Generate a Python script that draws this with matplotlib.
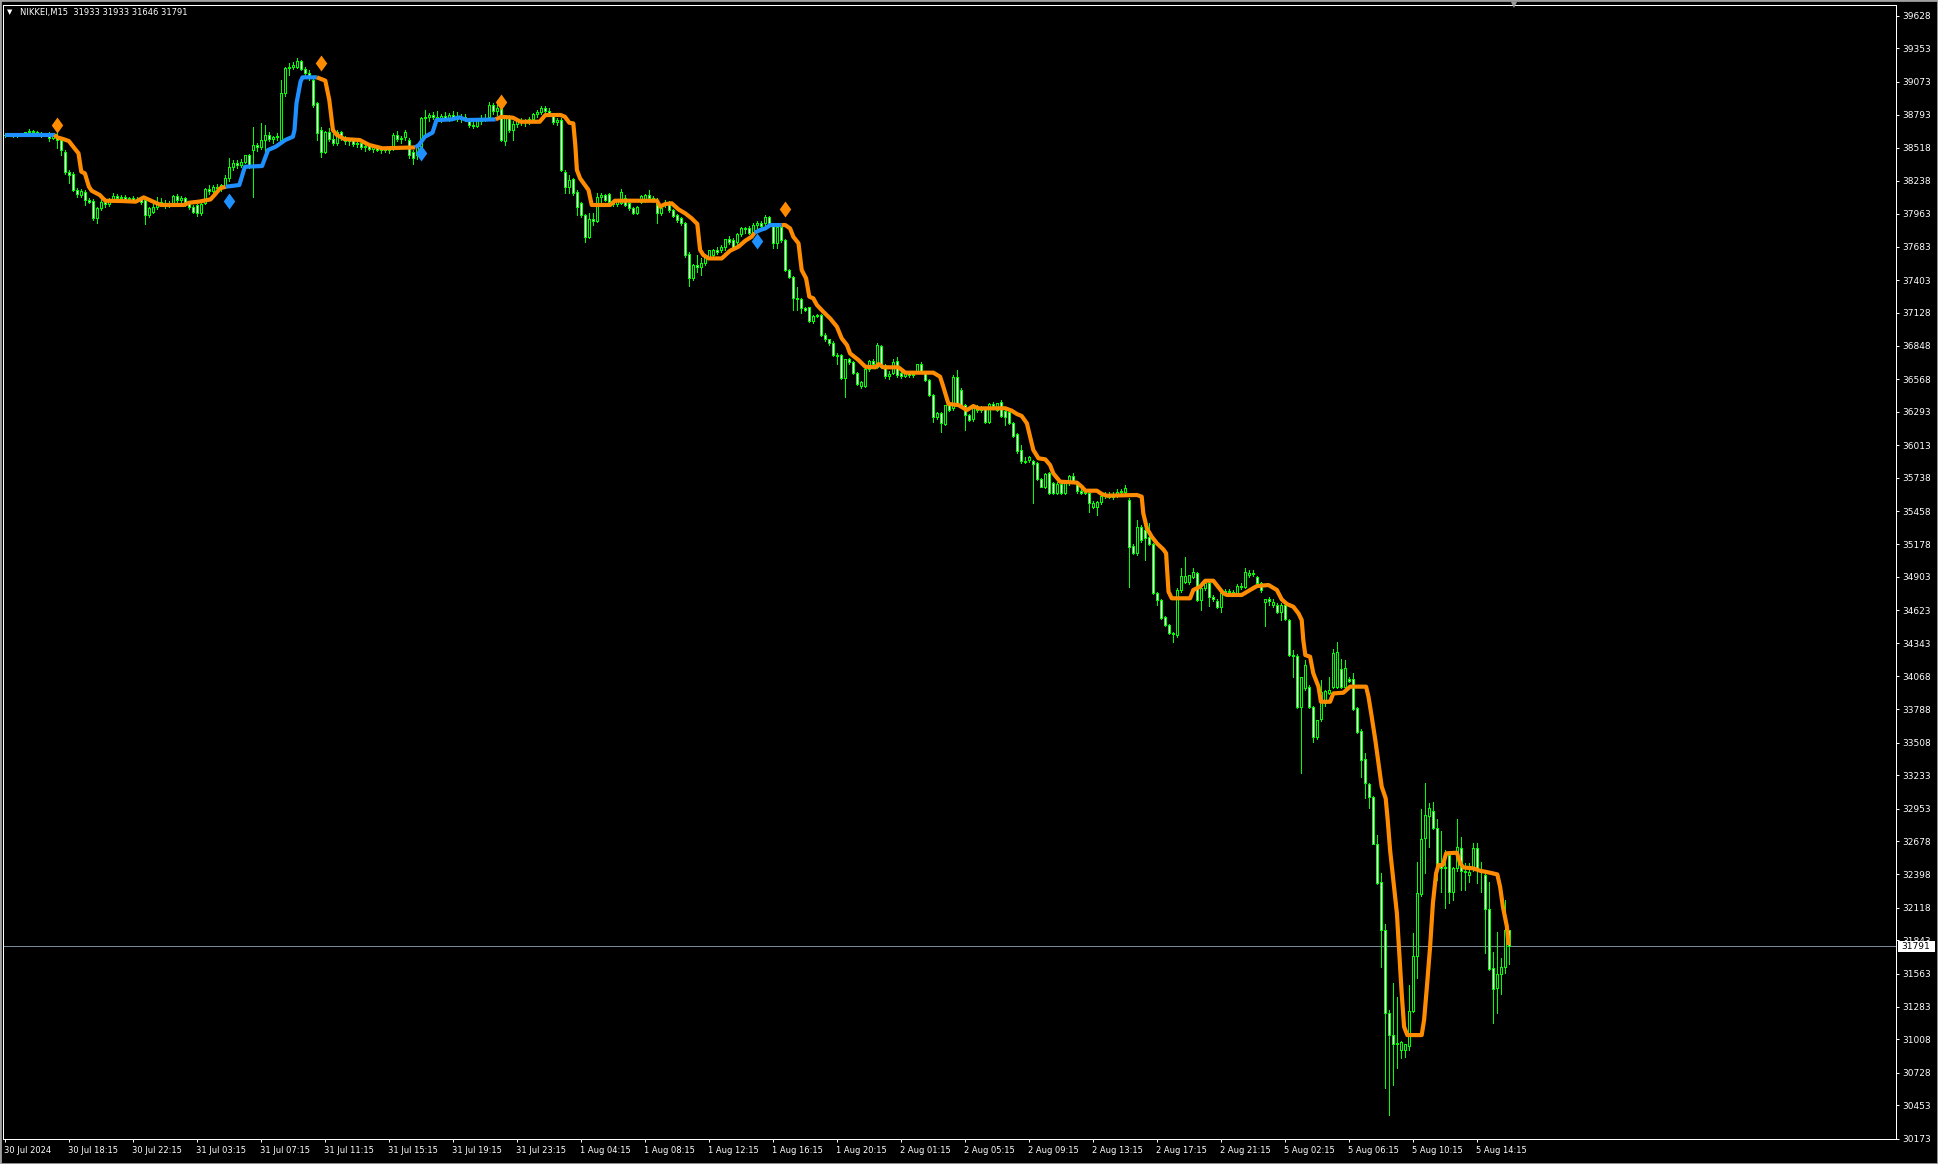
import numpy as np
import matplotlib
matplotlib.use("Agg")
import matplotlib.pyplot as plt
import matplotlib.transforms as mtransforms
from matplotlib.path import Path
from matplotlib.patches import Rectangle

# NIKKEI M15 candles, 30 Jul 14:15 .. 5 Aug 16:15
symbol = "NIKKEI,M15"

opens = [
    38624, 38628, 38620, 38612, 38630, 38624, 38646, 38660, 38650, 38636,
    38622, 38640, 38600, 38620, 38582, 38485, 38315, 38300, 38161, 38119,
    38147, 38077, 38071, 37922, 38012, 38063, 38040, 38080, 38110, 38090,
    38100, 38088, 38095, 38080, 38085, 38077, 37950, 37980, 38020, 38060,
    38045, 38030, 38049, 38110, 38075, 38095, 38050, 38020, 38035, 37965,
    38050, 38170, 38150, 38190, 38175, 38190, 38260, 38357, 38385, 38370,
    38400, 38455, 38498, 38540, 38525, 38582, 38624, 38590, 38605, 38582,
    38975, 39185, 39200, 39200, 39250, 39177, 39150, 39087, 38890, 38666,
    38484, 38650, 38590, 38560, 38650, 38600, 38570, 38590, 38545, 38560,
    38525, 38530, 38510, 38520, 38500, 38515, 38495, 38526, 38624, 38590,
    38610, 38582, 38484, 38456, 38526, 38764, 38780, 38790, 38775, 38760,
    38785, 38770, 38795, 38780, 38760, 38775, 38750, 38710, 38700, 38740,
    38770, 38772, 38877, 38830, 38850, 38570, 38780, 38670, 38720, 38740,
    38730, 38750, 38760, 38800, 38820, 38850, 38830, 38790, 38730, 38750,
    38315, 38189, 38250, 38147, 38049, 37950, 37768, 37914, 37900, 38099,
    38117, 38127, 38063, 38040, 38049, 38091, 38049, 38007, 37970, 38063,
    38077, 38119, 38091, 38077, 37964, 38035, 38054, 37993, 37950, 37922,
    37880, 37622, 37417, 37529, 37510, 37549, 37600, 37614, 37656, 37656,
    37678, 37745, 37740, 37726, 37790, 37838, 37838, 37810, 37866, 37885,
    37886, 37930, 37860, 37717, 37846, 37740, 37487, 37426, 37249, 37240,
    37165, 37173, 37061, 37100, 37110, 36940, 36903, 36870, 36772, 36771,
    36575, 36735, 36710, 36617, 36510, 36510, 36651, 36724, 36673, 36847,
    36687, 36595, 36623, 36724, 36623, 36595, 36620, 36600, 36640, 36696,
    36623, 36561, 36435, 36252, 36280, 36190, 36350, 36322, 36589, 36476,
    36350, 36266, 36230, 36342, 36308, 36323, 36210, 36359, 36310, 36379,
    36303, 36294, 36196, 36104, 35972, 35880, 35888, 35882, 35860, 35725,
    35663, 35775, 35691, 35612, 35685, 35612, 35690, 35753, 35685, 35629,
    35612, 35612, 35495, 35495, 35537, 35585, 35605, 35580, 35593, 35620,
    35621, 35551, 35163, 35107, 35320, 35298, 35242, 35180, 34765, 34709,
    34562, 34498, 34428, 34414, 34793, 34863, 34863, 34905, 34933, 34709,
    34807, 34849, 34737, 34703, 34652, 34765, 34787, 34775, 34765, 34826,
    34821, 34919, 34939, 34905, 34855, 34688, 34716, 34667, 34667, 34610,
    34667, 34540, 34245, 34240, 33810, 33965, 33973, 33805, 33552, 33704,
    33838, 33928, 33979, 33979, 34124, 33979, 34040, 34040, 33796, 33608,
    33367, 33159, 33052, 32654, 32336, 31929, 31228, 31045, 30970, 30919,
    30919, 30953, 31250, 31711, 32233, 32701, 32890, 32934, 32786, 32485,
    32449, 32561, 32252, 32449, 32617, 32430, 32393, 32449, 32617, 32435,
    32393, 32104, 31607, 31438, 31559, 31621, 31933,
]

highs = [
    38640, 38640, 38632, 38636, 38645, 38652, 38672, 38668, 38662, 38650,
    38645, 38648, 38640, 38640, 38590, 38495, 38330, 38310, 38175, 38170,
    38160, 38095, 38083, 38015, 38090, 38090, 38095, 38135, 38130, 38115,
    38120, 38105, 38110, 38100, 38095, 38090, 38015, 38040, 38100, 38090,
    38075, 38070, 38120, 38130, 38110, 38105, 38070, 38035, 38045, 38060,
    38180, 38200, 38200, 38215, 38210, 38287, 38428, 38412, 38410, 38420,
    38460, 38465, 38694, 38560, 38722, 38708, 38650, 38620, 38640, 39087,
    39200, 39228, 39240, 39270, 39260, 39200, 39175, 39110, 38900, 38690,
    38660, 38680, 38630, 38665, 38660, 38615, 38600, 38600, 38580, 38575,
    38545, 38560, 38540, 38535, 38530, 38525, 38520, 38640, 38660, 38620,
    38670, 38600, 38500, 38540, 38780, 38835, 38810, 38820, 38830, 38800,
    38820, 38810, 38830, 38815, 38800, 38805, 38770, 38740, 38760, 38790,
    38800, 38905, 38890, 38918, 38870, 38790, 38790, 38740, 38760, 38770,
    38760, 38780, 38810, 38835, 38865, 38870, 38855, 38800, 38770, 38770,
    38330, 38287, 38260, 38160, 38060, 37960, 37965, 37965, 38133, 38140,
    38130, 38140, 38080, 38075, 38166, 38120, 38060, 38020, 38030, 38120,
    38130, 38161, 38110, 38090, 38020, 38080, 38065, 38000, 37960, 37930,
    37895, 37640, 37540, 37614, 37585, 37610, 37660, 37665, 37680, 37700,
    37750, 37770, 37760, 37800, 37850, 37850, 37860, 37880, 37900, 37900,
    37950, 37945, 37870, 37860, 37860, 37750, 37500, 37435, 37347, 37255,
    37180, 37180, 37110, 37120, 37115, 36955, 36910, 36888, 36790, 36780,
    36740, 36745, 36720, 36625, 36555, 36660, 36730, 36735, 36870, 36860,
    36700, 36640, 36735, 36758, 36640, 36640, 36640, 36630, 36700, 36710,
    36635, 36570, 36440, 36290, 36290, 36350, 36365, 36600, 36645, 36490,
    36360, 36275, 36330, 36350, 36340, 36335, 36365, 36375, 36370, 36390,
    36315, 36305, 36205, 36115, 36014, 35910, 35920, 35890, 35870, 35735,
    35780, 35790, 35700, 35700, 35700, 35700, 35760, 35775, 35700, 35640,
    35640, 35625, 35545, 35545, 35590, 35620, 35620, 35615, 35640, 35640,
    35680, 35565, 35180, 35382, 35340, 35310, 35360, 35190, 34775, 34720,
    34570, 34505, 34440, 34810, 34975, 35073, 34920, 34975, 34945, 34810,
    34860, 34860, 34750, 34715, 34765, 34800, 34800, 34790, 34840, 34850,
    34975, 34960, 34960, 34915, 34860, 34720, 34735, 34720, 34680, 34680,
    34680, 34550, 34287, 34255, 34063, 34203, 33990, 33815, 33700, 34035,
    33950, 34063, 34293, 34357, 34209, 34203, 34060, 34090, 33810, 33620,
    33417, 33170, 33060, 32730, 32407, 31980, 31256, 31481, 31368, 30997,
    30970, 31466, 31901, 32505, 32946, 33165, 32996, 33010, 32861, 32763,
    32603, 32580, 32460, 32861, 32715, 32491, 32491, 32665, 32665, 32505,
    32410, 32336, 31747, 31916, 31691, 32182, 31933,
]

lows = [
    38610, 38612, 38604, 38605, 38618, 38618, 38640, 38645, 38628, 38610,
    38615, 38570, 38590, 38512, 38456, 38300, 38217, 38150, 38100, 38100,
    38035, 38050, 37908, 37880, 37990, 38020, 38030, 38065, 38075, 38070,
    38080, 38060, 38070, 38060, 38040, 37875, 37930, 37965, 38000, 38030,
    38010, 38015, 38030, 38060, 38050, 38030, 38000, 37965, 37940, 37950,
    38040, 38130, 38140, 38160, 38150, 38180, 38240, 38330, 38350, 38355,
    38390, 38350, 38105, 38490, 38510, 38480, 38570, 38560, 38580, 38570,
    38950, 39130, 39180, 39190, 39170, 39130, 39090, 38860, 38582, 38442,
    38470, 38570, 38540, 38540, 38580, 38550, 38540, 38530, 38520, 38510,
    38490, 38500, 38480, 38490, 38470, 38480, 38470, 38500, 38570, 38560,
    38580, 38430, 38380, 38420, 38500, 38610, 38740, 38760, 38740, 38730,
    38750, 38745, 38760, 38740, 38735, 38740, 38690, 38680, 38690, 38720,
    38740, 38760, 38800, 38790, 38570, 38540, 38650, 38582, 38690, 38710,
    38700, 38720, 38740, 38780, 38800, 38810, 38790, 38720, 38710, 38320,
    38133, 38133, 38120, 37950, 37930, 37726, 37760, 37866, 37890, 38060,
    38070, 38035, 38030, 38030, 38040, 38025, 37995, 37960, 37960, 38050,
    38060, 38080, 38060, 37880, 37950, 38020, 37980, 37930, 37890, 37870,
    37600, 37353, 37400, 37473, 37445, 37530, 37580, 37600, 37620, 37640,
    37660, 37710, 37660, 37710, 37770, 37800, 37790, 37790, 37840, 37850,
    37870, 37850, 37670, 37670, 37720, 37480, 37420, 37150, 37150, 37122,
    37140, 37050, 37040, 37090, 36930, 36890, 36860, 36760, 36700, 36570,
    36421, 36700, 36610, 36520, 36490, 36500, 36640, 36690, 36660, 36660,
    36580, 36570, 36610, 36590, 36580, 36585, 36590, 36585, 36630, 36630,
    36550, 36430, 36210, 36230, 36120, 36180, 36300, 36310, 36350, 36340,
    36140, 36220, 36220, 36290, 36290, 36200, 36200, 36330, 36300, 36250,
    36180, 36190, 36080, 35950, 35860, 35860, 35870, 35522, 35720, 35660,
    35650, 35605, 35600, 35600, 35600, 35600, 35680, 35700, 35610, 35600,
    35600, 35452, 35480, 35425, 35520, 35570, 35570, 35560, 35580, 35600,
    35610, 34815, 35095, 35090, 35200, 35045, 35170, 34760, 34666, 34550,
    34490, 34420, 34358, 34400, 34780, 34850, 34840, 34890, 34700, 34625,
    34790, 34660, 34700, 34640, 34610, 34750, 34760, 34740, 34750, 34800,
    34810, 34900, 34910, 34840, 34780, 34490, 34670, 34650, 34600, 34540,
    34540, 34240, 34063, 33800, 33254, 33950, 33800, 33515, 33540, 33690,
    33820, 33920, 33970, 33970, 33970, 33970, 34020, 33780, 33590, 33215,
    33038, 32954, 32650, 32320, 31621, 30596, 30372, 30624, 30765, 30849,
    30863, 30919, 31240, 31522, 32220, 32407, 32631, 32780, 32350, 32253,
    32112, 32160, 32182, 32430, 32266, 32266, 32337, 32430, 32322, 32253,
    31739, 31590, 31149, 31233, 31391, 31565, 31646,
]

closes = [
    38628, 38620, 38612, 38630, 38624, 38646, 38660, 38650, 38636, 38622,
    38640, 38600, 38628, 38582, 38498, 38315, 38287, 38161, 38127, 38155,
    38077, 38060, 37922, 38012, 38063, 38040, 38080, 38110, 38090, 38100,
    38088, 38095, 38080, 38085, 38060, 37950, 38006, 38020, 38060, 38045,
    38030, 38055, 38110, 38075, 38095, 38050, 38015, 37980, 37965, 38045,
    38170, 38150, 38190, 38175, 38200, 38260, 38357, 38385, 38370, 38400,
    38455, 38370, 38540, 38525, 38582, 38624, 38590, 38605, 38620, 38975,
    39185, 39200, 39215, 39250, 39177, 39150, 39110, 38877, 38644, 38484,
    38650, 38590, 38560, 38650, 38600, 38570, 38590, 38545, 38560, 38525,
    38530, 38510, 38520, 38500, 38515, 38495, 38505, 38624, 38590, 38600,
    38650, 38456, 38428, 38526, 38764, 38780, 38790, 38775, 38760, 38785,
    38770, 38795, 38780, 38760, 38775, 38750, 38710, 38700, 38740, 38770,
    38760, 38877, 38830, 38850, 38580, 38780, 38670, 38720, 38740, 38730,
    38750, 38760, 38800, 38820, 38850, 38830, 38810, 38730, 38750, 38330,
    38189, 38245, 38133, 38021, 37950, 37768, 37914, 37900, 38099, 38117,
    38080, 38063, 38040, 38065, 38147, 38035, 38007, 37970, 38020, 38110,
    38119, 38091, 38077, 37964, 38010, 38054, 37993, 37942, 37908, 37886,
    37614, 37417, 37529, 37516, 37549, 37600, 37656, 37656, 37640, 37684,
    37745, 37726, 37684, 37790, 37838, 37830, 37800, 37866, 37885, 37860,
    37930, 37860, 37717, 37846, 37740, 37487, 37426, 37249, 37240, 37165,
    37150, 37061, 37100, 37110, 36940, 36903, 36870, 36772, 36763, 36575,
    36735, 36710, 36617, 36527, 36547, 36651, 36724, 36700, 36856, 36673,
    36595, 36610, 36715, 36603, 36595, 36620, 36600, 36615, 36696, 36640,
    36561, 36435, 36252, 36286, 36196, 36350, 36308, 36589, 36364, 36350,
    36266, 36224, 36322, 36308, 36320, 36210, 36359, 36345, 36365, 36258,
    36252, 36202, 36090, 35963, 35882, 35870, 35910, 35854, 35725, 35663,
    35770, 35612, 35612, 35685, 35612, 35690, 35753, 35705, 35629, 35612,
    35620, 35528, 35528, 35537, 35585, 35605, 35580, 35600, 35620, 35630,
    35649, 35158, 35107, 35320, 35214, 35228, 35180, 34765, 34709, 34554,
    34498, 34428, 34420, 34793, 34911, 34911, 34919, 34947, 34709, 34807,
    34849, 34737, 34720, 34652, 34765, 34787, 34775, 34760, 34826, 34815,
    34947, 34939, 34925, 34855, 34793, 34716, 34700, 34695, 34610, 34667,
    34545, 34245, 34240, 33810, 34063, 34161, 33805, 33552, 33698, 33937,
    33942, 33951, 34265, 34273, 33979, 34133, 34030, 33788, 33600, 33361,
    33165, 33047, 32654, 32328, 31929, 31228, 31045, 30970, 30980, 30989,
    30969, 31250, 31711, 32238, 32693, 32898, 32954, 32786, 32477, 32449,
    32463, 32252, 32449, 32631, 32430, 32421, 32421, 32617, 32449, 32421,
    32104, 31598, 31430, 31559, 31621, 31933, 31791,
]

# trend indicator line: vertices (bar index, price)
trend_bars = [
    0, 12.5, 13.2, 14.7, 16.1, 17.5, 18.5, 19.2, 20.1, 21.1, 21.8, 23.8, 25.2,
    29.5, 32.8, 34.8, 38.1, 39.1, 44.8, 46.2, 48.6, 51.5, 52.5, 53.9, 55.3,
    58.7, 60.1, 64.4, 65.9, 67.8, 70.2, 72.1, 72.5, 73.0, 74.0, 74.5, 78.1,
    80.2, 81.2, 82.1, 83.1, 85.0, 88.8, 91.2, 94.5, 102.7, 103.6, 105.1, 107.0,
    108.0, 111.8, 113.7, 115.6, 122.8, 124.2, 127.1, 129.0, 133.8, 135.2, 139.0,
    140.1, 141.2, 142.2, 142.7, 143.1, 143.9, 146.0, 146.8, 151.4, 152.6, 163.1,
    163.9, 165.2, 166.8, 168.5, 170.2, 171.8, 173.2, 173.9, 174.7, 176.0, 179.3,
    181.4, 183.5, 185.2, 186.8, 187.5, 188.9, 190.2, 191.4, 194.3, 195.2, 196.4,
    197.2, 198.5, 199.3, 200.4, 201.2, 202.2, 203.1, 204.7, 206.4, 208.1, 209.3,
    210.6, 211.4, 213.5, 215.2, 217.7, 218.5, 219.7, 223.5, 225.2, 232.2, 233.9,
    234.7, 236.0, 238.5, 240.6, 242.2, 243.5, 250.2, 251.8, 253.1, 254.3, 255.6,
    256.4, 257.2, 258.5, 260.2, 261.4, 262.2, 263.9, 268.1, 269.3, 270.2, 273.1,
    274.3, 275.6, 283.1, 284.3, 284.7, 285.6, 286.8, 288.1, 289.7, 290.4, 291.0,
    291.8, 296.4, 297.2, 298.9, 300.2, 302.2, 304.7, 305.6, 309.3, 311.4, 313.1,
    316.0, 318.1, 319.3, 320.6, 322.2, 323.5, 324.3, 324.7, 325.2, 326.4, 327.2,
    328.5, 329.1, 331.4, 332.2, 334.7, 336.4, 340.4, 341.0, 341.8, 342.7, 343.5,
    344.3, 345.3, 345.8, 346.4, 347.2, 348.1, 348.7, 349.3, 349.9, 350.7, 354.3,
    354.9, 355.6, 356.4, 357.1, 357.9, 358.5, 359.6, 360.4, 363.1, 363.9, 364.7,
    367.2, 368.9, 371.4, 373.2, 373.9, 374.6, 375.6, 376.0,
]
trend_vals = [
    38627, 38627, 38604, 38590, 38573, 38512, 38470, 38315, 38301, 38189, 38155, 38119, 38071,
    38068, 38063, 38099, 38049, 38035, 38035, 38054, 38063, 38082, 38119, 38175, 38189,
    38203, 38357, 38363, 38498, 38526, 38582, 38610, 38666, 38891, 39073, 39110, 39110,
    39082, 38919, 38666, 38624, 38590, 38582, 38540, 38512, 38520, 38540, 38610, 38644,
    38750, 38756, 38773, 38750, 38756, 38778, 38770, 38736, 38736, 38792, 38793,
    38778, 38728, 38722, 38540, 38329, 38259, 38161, 38035, 38035, 38071, 38071,
    38021, 38043, 38049, 37998, 37964, 37922, 37875, 37656, 37614, 37585, 37585,
    37650, 37684, 37734, 37768, 37802, 37824, 37838, 37866, 37866, 37866, 37838,
    37768, 37712, 37487, 37417, 37263, 37249, 37193, 37136, 37080, 37010, 36912,
    36856, 36785, 36729, 36673, 36668, 36696, 36668, 36668, 36623, 36623, 36589,
    36505, 36359, 36350, 36308, 36342, 36322, 36323, 36303, 36275, 36258, 36196,
    36084, 35972, 35902, 35893, 35845, 35775, 35705, 35697, 35663, 35629, 35629,
    35601, 35587, 35593, 35579, 35438, 35312, 35242, 35186, 35135, 35102, 34779,
    34723, 34723, 34793, 34821, 34871, 34871, 34765, 34751, 34751, 34793, 34826,
    34835, 34793, 34714, 34675, 34652, 34596, 34540, 34372, 34245, 34231, 34091,
    33979, 33852, 33852, 33922, 33928, 33979, 33979, 33894, 33726, 33530, 33333,
    33137, 33038, 32856, 32603, 32351, 32070, 31733, 31396, 31115, 31045, 31045,
    31172, 31452, 31789, 32154, 32407, 32477, 32477, 32575, 32581, 32491, 32457,
    32449, 32429, 32412, 32398, 32294, 32126, 31958, 31803,
]
# bar ranges where the trend line is drawn blue (rising)
blue_spans = [(0, 12.5), (55.3, 78.1), (102.7, 122.8), (187.5, 194.3)]

# signal diamonds
sell_bars = [13, 79, 124, 195]
sell_vals = [38708, 39233, 38902, 38001]
buy_bars = [56, 104, 188]
buy_vals = [38071, 38470, 37734]

time_labels = [
    "30 Jul 2024", "30 Jul 18:15", "30 Jul 22:15", "31 Jul 03:15", "31 Jul 07:15",
    "31 Jul 11:15", "31 Jul 15:15", "31 Jul 19:15", "31 Jul 23:15", "1 Aug 04:15",
    "1 Aug 08:15", "1 Aug 12:15", "1 Aug 16:15", "1 Aug 20:15", "2 Aug 01:15",
    "2 Aug 05:15", "2 Aug 09:15", "2 Aug 13:15", "2 Aug 17:15", "2 Aug 21:15",
    "5 Aug 02:15", "5 Aug 06:15", "5 Aug 10:15", "5 Aug 14:15",
]
price_labels = [
    39628, 39353, 39073, 38793, 38518, 38238, 37963, 37683, 37403, 37128, 36848,
    36568, 36293, 36013, 35738, 35458, 35178, 34903, 34623, 34343, 34068, 33788,
    33508, 33233, 32953, 32678, 32398, 32118, 31843, 31563, 31283, 31008, 30728,
    30453, 30173,
]

assert len(opens) == len(highs) == len(lows) == len(closes)
assert len(trend_bars) == len(trend_vals)

# colours (MT4 "green on black")
bg = "black"
fg = "white"
candle_col = "#00FF00"
up_col = "#1E90FF"
dn_col = "#FF8C00"
px = 0.72  # one pixel in points at dpi 100

W, H = 1938, 1164
fig = plt.figure(figsize=(W / 100, H / 100), dpi=100, facecolor=bg)
ax = fig.add_axes([3 / W, 1 - 1139 / H, (1896 - 3) / W, (1139 - 5) / H])
ax.set_facecolor(bg)

o = np.array(opens)
h = np.array(highs)
l = np.array(lows)
c = np.array(closes)
x = np.arange(len(c))

# current price line
ax.axhline(c[-1], color="#778899", lw=px, zorder=1)

# candles: wick then body (white = bearish, black = bullish)
ax.vlines(x, l, h, color=candle_col, lw=px, antialiased=False, zorder=2)
body_bottom = np.minimum(o, c)
body_h = np.maximum(np.abs(c - o), 1)
face = ["white" if cc < oo else "black" for oo, cc in zip(o, c)]
ax.bar(x, body_h, bottom=body_bottom, width=0.5, color=face,
       edgecolor=candle_col, linewidth=px, antialiased=False, zorder=3)

# trend line, split into blue / orange runs
def is_blue(b):
    return any(s <= b < e for s, e in blue_spans)

runs = []
cur = [0]
for i in range(1, len(trend_bars)):
    cur.append(i)
    if i < len(trend_bars) - 1 and is_blue(trend_bars[i]) != is_blue(trend_bars[i - 1]):
        runs.append((is_blue(trend_bars[i - 1]), cur))
        cur = [i]
runs.append((is_blue(trend_bars[cur[0]]), cur))
for blue, idx in runs:
    ax.plot([trend_bars[k] for k in idx], [trend_vals[k] for k in idx],
            color=up_col if blue else dn_col, lw=3.0,
            solid_joinstyle="round", solid_capstyle="butt", zorder=4)

# diamonds
diamond = Path([(0, 1), (0.72, 0), (0, -1), (-0.72, 0), (0, 1)],
               [Path.MOVETO, Path.LINETO, Path.LINETO, Path.LINETO, Path.CLOSEPOLY])
ax.plot(sell_bars, sell_vals, ls="none", marker=diamond, ms=11.5, mew=0,
        color=dn_col, zorder=5)
ax.plot(buy_bars, buy_vals, ls="none", marker=diamond, ms=11.5, mew=0,
        color=up_col, zorder=5)

# axes
ax.set_xlim(-0.375, 472.875)
ax.set_ylim(30170, 39719)
for sp in ax.spines.values():
    sp.set_color(fg)
    sp.set_linewidth(px)

ax.yaxis.tick_right()
ax.set_yticks(price_labels)
ax.set_yticklabels([str(v) for v in price_labels])
ax.tick_params(axis="y", colors=fg, length=2.2, width=px, pad=2.6,
               labelsize=6.5, direction="out")

ax.set_xticks(np.arange(len(time_labels)) * 16)
ax.set_xticklabels(time_labels, ha="left")
ax.tick_params(axis="x", colors=fg, length=2.2, width=px, pad=3,
               labelsize=6.0, direction="out")

# price tag on the right axis
trans = mtransforms.blended_transform_factory(ax.transAxes, ax.transData)
aw = 1893.0
ax.add_patch(Rectangle((1 + 1.5 / aw, c[-1] - 47), 37 / aw, 94, transform=trans,
                       facecolor="white", edgecolor="none", clip_on=False, zorder=10))
ax.text(1 + 20 / aw, c[-1], str(c[-1]), transform=trans, color="black",
        fontsize=6.5, ha="center", va="center", clip_on=False, zorder=11)

# chart shift marker at top
ax.plot([0.798], [1.0], marker="v", ms=5, color="#9a9a9a", mew=0,
        transform=ax.transAxes, clip_on=False, zorder=10)

# header
fig.text(7 / W, 1 - 12.5 / H, "▼", color=fg, fontsize=5, va="center")
fig.text(20 / W, 1 - 12.5 / H,
         f"{symbol}  {opens[-1]} {highs[-1]} {lows[-1]} {closes[-1]}",
         color=fg, fontsize=6.0, va="center")

# window frame
fig.patches.append(Rectangle((0, 0), 1, 1, transform=fig.transFigure, fill=False,
                             edgecolor="#a0a0a0", linewidth=2.0))

fig.savefig("out.png", dpi=100, facecolor=bg)
